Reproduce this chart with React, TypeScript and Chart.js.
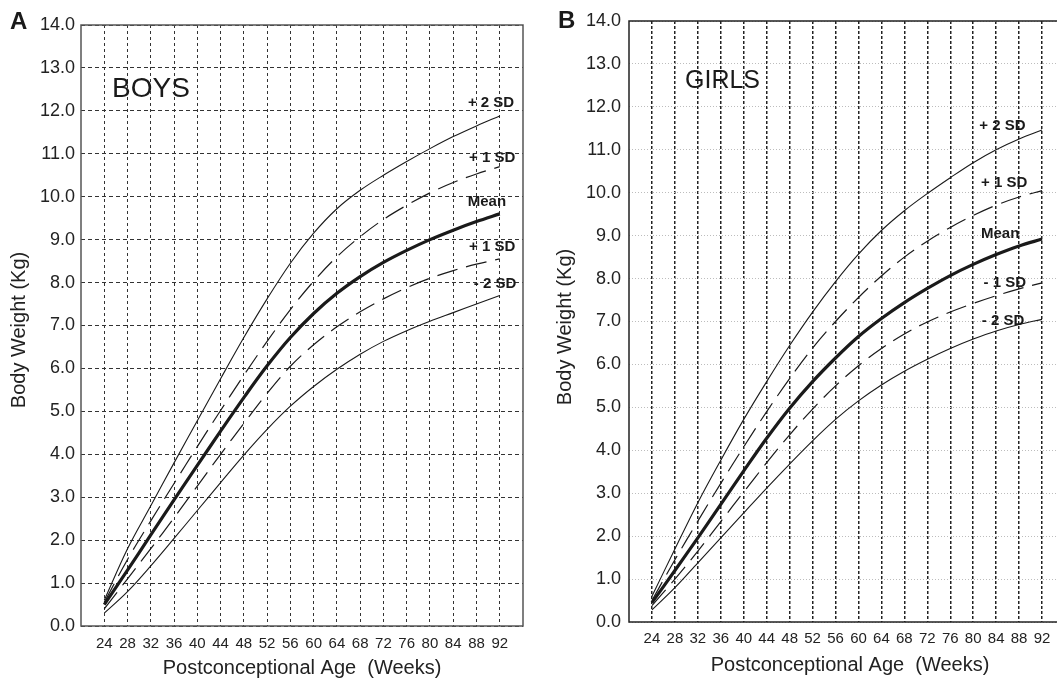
import React, { useEffect, useRef } from "react";
import { Chart, registerables } from "chart.js";

Chart.register(...registerables);

// ---------- data ----------
const weeks = [24, 28, 32, 36, 40, 44, 48, 52, 56, 60, 64, 68, 72, 76, 80, 84, 88, 92];
const xTickValues = [24, 28, 32, 36, 40, 44, 48, 52, 56, 60, 64, 68, 72, 76, 80, 84, 88, 92];
const yTickValues = [0, 1, 2, 3, 4, 5, 6, 7, 8, 9, 10, 11, 12, 13, 14];

const boysPlus2 = [0.6, 1.8, 2.8, 3.8, 4.78, 5.76, 6.72, 7.62, 8.45, 9.15, 9.72, 10.15, 10.5, 10.82, 11.12, 11.4, 11.65, 11.88];
const boysPlus1 = [0.55, 1.55, 2.45, 3.32, 4.18, 5.02, 5.84, 6.63, 7.37, 8.03, 8.6, 9.07, 9.47, 9.8, 10.09, 10.33, 10.53, 10.7];
const boysMean = [0.5, 1.3, 2.12, 2.94, 3.74, 4.54, 5.32, 6.06, 6.72, 7.28, 7.75, 8.14, 8.47, 8.75, 9.0, 9.22, 9.42, 9.6];
const boysMinus1 = [0.4, 1.1, 1.8, 2.52, 3.26, 4.0, 4.72, 5.42, 6.05, 6.55, 6.97, 7.32, 7.62, 7.88, 8.1, 8.28, 8.43, 8.55];
const boysMinus2 = [0.3, 0.8, 1.4, 2.04, 2.69, 3.34, 3.98, 4.58, 5.12, 5.58, 5.98, 6.33, 6.63, 6.88, 7.1, 7.3, 7.5, 7.7];

const girlsPlus2 = [0.6, 1.7, 2.78, 3.77, 4.72, 5.6, 6.44, 7.22, 7.93, 8.57, 9.12, 9.58, 9.98, 10.35, 10.7, 11.0, 11.25, 11.46];
const girlsPlus1 = [0.5, 1.45, 2.35, 3.23, 4.08, 4.9, 5.67, 6.38, 7.0, 7.56, 8.06, 8.5, 8.87, 9.19, 9.47, 9.71, 9.9, 10.05];
const girlsMean = [0.45, 1.2, 1.96, 2.74, 3.52, 4.28, 4.98, 5.6, 6.15, 6.65, 7.07, 7.44, 7.77, 8.07, 8.33, 8.56, 8.76, 8.92];
const girlsMinus1 = [0.38, 1.0, 1.65, 2.34, 3.03, 3.71, 4.36, 4.96, 5.5, 5.97, 6.37, 6.71, 6.99, 7.22, 7.42, 7.6, 7.76, 7.9];
const girlsMinus2 = [0.28, 0.8, 1.38, 1.96, 2.54, 3.12, 3.68, 4.22, 4.72, 5.15, 5.52, 5.84, 6.12, 6.37, 6.59, 6.78, 6.93, 7.05];

const boysLabels = ["+ 2 SD", "+ 1 SD", "Mean", "+ 1 SD", "- 2 SD"];
const girlsLabels = ["+ 2 SD", "+ 1 SD", "Mean", "- 1 SD", "- 2 SD"];

const xTitle = "Postconceptional Age  (Weeks)";
const yTitle = "Body Weight (Kg)";

// ---------- styling / layout ----------
const FONT = "'Liberation Sans', Arial, Helvetica, sans-serif";
const INK = "#1a1a1a";

const lineStyles = [
  { w: 1.1, dash: [] as number[] },
  { w: 1.2, dash: [21, 9] },
  { w: 3.2, dash: [] as number[] },
  { w: 1.2, dash: [21, 9] },
  { w: 1.1, dash: [] as number[] },
];

type Panel = {
  series: number[][];
  labels: string[];
  labelPos: { x: number; y: number }[];
  letter: { text: string; x: number; y: number };
  name: { text: string; x: number; y: number; size: number };
  yTitlePos: { x: number; y: number };
  xTitlePos: { x: number; y: number };
  yAxisWidth: number;
  xAxisHeight: number;
  padTop: number;
  padRight: number;
  yPad: number;
  xPad: number;
  vGrid: { color: string; width: number; dash: number[] };
  hGrid: { color: string; width: number; dash: number[] };
  frameColor: string;
};

const boysPanel: Panel = {
  series: [boysPlus2, boysPlus1, boysMean, boysMinus1, boysMinus2],
  labels: boysLabels,
  labelPos: [
    { x: 90.5, y: 12.18 },
    { x: 90.7, y: 10.9 },
    { x: 89.8, y: 9.88 },
    { x: 90.7, y: 8.83 },
    { x: 91.2, y: 7.97 },
  ],
  letter: { text: "A", x: 10, y: 29 },
  name: { text: "BOYS", x: 112, y: 97, size: 28 },
  yTitlePos: { x: 19, y: 330 },
  xTitlePos: { x: 302, y: 668 },
  yAxisWidth: 81,
  xAxisHeight: 57,
  padTop: 25,
  padRight: 7,
  yPad: 6,
  xPad: 9,
  vGrid: { color: "#333", width: 1, dash: [3, 3] },
  hGrid: { color: "#333", width: 1, dash: [4, 3] },
  frameColor: "#555",
};

const girlsPanel: Panel = {
  series: [girlsPlus2, girlsPlus1, girlsMean, girlsMinus1, girlsMinus2],
  labels: girlsLabels,
  labelPos: [
    { x: 85.1, y: 11.55 },
    { x: 85.4, y: 10.24 },
    { x: 84.7, y: 9.03 },
    { x: 85.5, y: 7.91 },
    { x: 85.2, y: 7.02 },
  ],
  letter: { text: "B", x: 28, y: 28 },
  name: { text: "GIRLS", x: 155, y: 88, size: 25 },
  yTitlePos: { x: 35, y: 327 },
  xTitlePos: { x: 320, y: 665 },
  yAxisWidth: 99,
  xAxisHeight: 61,
  padTop: 21,
  padRight: 25,
  yPad: 8,
  xPad: 8,
  vGrid: { color: "#222", width: 1.5, dash: [3, 2] },
  hGrid: { color: "#bdbdbd", width: 1, dash: [1, 2] },
  frameColor: "#222",
};

function buildConfig(p: Panel): any {
  const datasets = p.series.map((vals, i) => ({
    data: weeks.map((w, j) => ({ x: w, y: vals[j] })),
    borderColor: INK,
    borderWidth: lineStyles[i].w,
    borderDash: lineStyles[i].dash,
    pointRadius: 0,
    tension: 0.35,
    fill: false,
  }));

  const overlay = {
    id: "overlay",
    afterDatasetsDraw(chart: any) {
      const { ctx, chartArea } = chart;
      ctx.save();
      ctx.strokeStyle = p.frameColor;
      ctx.lineWidth = 1.5;
      ctx.setLineDash([]);
      ctx.strokeRect(chartArea.left, chartArea.top, chartArea.right - chartArea.left, chartArea.bottom - chartArea.top);
      ctx.restore();
    },
    afterDraw(chart: any) {
      const { ctx } = chart;
      const xs = chart.scales.x;
      const ys = chart.scales.y;
      ctx.save();
      ctx.fillStyle = INK;
      ctx.font = `bold 24px ${FONT}`;
      ctx.textAlign = "left";
      ctx.textBaseline = "alphabetic";
      ctx.fillText(p.letter.text, p.letter.x, p.letter.y);
      ctx.font = `${p.name.size}px ${FONT}`;
      ctx.fillText(p.name.text, p.name.x, p.name.y);
      ctx.font = `bold 15px ${FONT}`;
      ctx.textAlign = "center";
      ctx.textBaseline = "middle";
      p.labels.forEach((t, i) => {
        ctx.fillText(t, xs.getPixelForValue(p.labelPos[i].x), ys.getPixelForValue(p.labelPos[i].y));
      });
      ctx.font = `20px ${FONT}`;
      ctx.fillStyle = "#222";
      ctx.fillText(xTitle, p.xTitlePos.x, p.xTitlePos.y);
      ctx.translate(p.yTitlePos.x, p.yTitlePos.y);
      ctx.rotate(-Math.PI / 2);
      ctx.fillText(yTitle, 0, 0);
      ctx.restore();
    },
  };

  return {
    type: "line",
    data: { datasets },
    plugins: [overlay],
    options: {
      animation: false,
      responsive: false,
      devicePixelRatio: 1,
      layout: { padding: { left: 0, right: p.padRight, top: p.padTop, bottom: 0 } },
      plugins: { legend: { display: false }, tooltip: { enabled: false }, title: { display: false } },
      scales: {
        x: {
          type: "linear",
          min: 20,
          max: 96,
          afterBuildTicks: (s: any) => {
            s.ticks = xTickValues.map((v) => ({ value: v }));
          },
          afterFit: (s: any) => {
            s.height = p.xAxisHeight;
          },
          ticks: {
            autoSkip: false,
            maxRotation: 0,
            padding: p.xPad,
            color: "#222",
            font: { size: 15, family: FONT },
            callback: (v: any) => String(v),
          },
          grid: { color: p.vGrid.color, lineWidth: p.vGrid.width, drawTicks: false },
          border: { display: false, dash: p.vGrid.dash },
        },
        y: {
          type: "linear",
          min: 0,
          max: 14,
          afterBuildTicks: (s: any) => {
            s.ticks = yTickValues.map((v) => ({ value: v }));
          },
          afterFit: (s: any) => {
            s.width = p.yAxisWidth;
          },
          ticks: {
            padding: p.yPad,
            color: "#222",
            font: { size: 18, family: FONT },
            callback: (v: any) => Number(v).toFixed(1),
          },
          grid: { color: p.hGrid.color, lineWidth: p.hGrid.width, drawTicks: false },
          border: { display: false, dash: p.hGrid.dash },
        },
      },
    },
  };
}

export default function App() {
  const leftRef = useRef<HTMLCanvasElement>(null);
  const rightRef = useRef<HTMLCanvasElement>(null);

  useEffect(() => {
    Chart.defaults.font.family = FONT;
    const c1 = new Chart(leftRef.current as HTMLCanvasElement, buildConfig(boysPanel));
    const c2 = new Chart(rightRef.current as HTMLCanvasElement, buildConfig(girlsPanel));
    return () => {
      c1.destroy();
      c2.destroy();
    };
  }, []);

  return (
    <div style={{ position: "fixed", left: 0, top: 0, width: 1057, height: 683, overflow: "hidden", background: "#fff" }}>
      <canvas ref={leftRef} width={530} height={683} style={{ position: "absolute", left: 0, top: 0, width: 530, height: 683 }} />
      <canvas ref={rightRef} width={560} height={683} style={{ position: "absolute", left: 530, top: 0, width: 560, height: 683 }} />
    </div>
  );
}
